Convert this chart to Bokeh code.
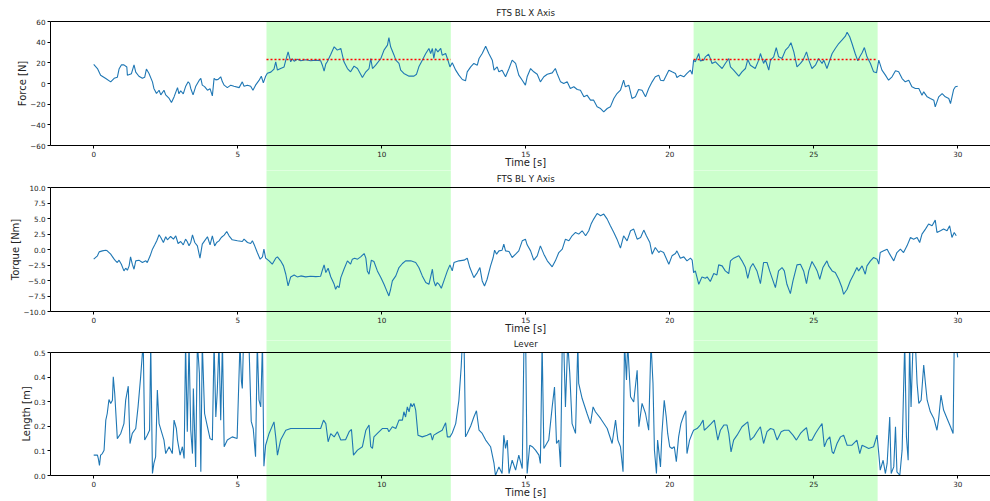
import math
from bokeh.plotting import figure
from bokeh.layouts import column
from bokeh.models import (Range1d, FixedTicker, BoxAnnotation, Label, LinearAxis,
                          CustomJSTickFormatter)
from bokeh.embed import file_html
from bokeh.resources import INLINE

FONT = "DejaVu Sans"
BLUE = "#1f77b4"
GREEN = "#ccffcc"
TXT = "#222222"

X_TICKS = [0, 5, 10, 15, 20, 25, 30]
X_MIN = -1.5          # left spine of every panel

# contact segments (green) and mean force inside each
SEG_START = [6.0, 20.83]
SEG_END = [12.4, 27.22]
SEG_MEAN = [23.2, 23.2]

# ---------------- FTS BL X Axis : Force [N] ----------------
FX_T = [0.00, 0.13, 0.24, 0.42, 0.59, 0.71, 0.82, 0.88, 0.96, 1.05, 1.15, 1.17, 1.31, 1.40, 1.46, 1.57,
        1.69, 1.77, 1.83, 1.92, 2.04, 2.09, 2.18, 2.27, 2.33, 2.44, 2.50, 2.62, 2.70, 2.79, 2.91, 2.96,
        3.02, 3.11, 3.19, 3.28, 3.33, 3.37, 3.45, 3.54, 3.66, 3.72, 3.77, 3.85, 3.95, 4.04, 4.12, 4.18,
        4.24, 4.32, 4.41, 4.47, 4.53, 4.64, 4.76, 4.87, 5.05, 5.16, 5.22, 5.34, 5.45, 5.53, 5.62, 5.74,
        5.82, 5.89, 5.97, 6.03, 6.15, 6.26, 6.32, 6.38, 6.49, 6.61, 6.67, 6.75, 6.84, 6.90, 6.96, 7.07,
        7.19, 7.36, 7.53, 7.71, 7.88, 7.94, 8.00, 8.06, 8.11, 8.23, 8.35, 8.46, 8.58, 8.69, 8.81, 8.92,
        9.04, 9.16, 9.33, 9.45, 9.56, 9.62, 9.68, 9.79, 9.97, 10.08, 10.20, 10.25, 10.31, 10.43, 10.49,
        10.60, 10.66, 10.77, 10.95, 11.12, 11.21, 11.29, 11.41, 11.53, 11.64, 11.70, 11.76, 11.81, 11.87,
        11.95, 12.05, 12.10, 12.22, 12.28, 12.37, 12.45, 12.57, 12.68, 12.80, 12.91, 12.97, 13.09, 13.20,
        13.32, 13.38, 13.49, 13.61, 13.72, 13.84, 13.90, 14.01, 14.07, 14.18, 14.30, 14.42, 14.53, 14.65,
        14.76, 14.88, 14.99, 15.05, 15.17, 15.28, 15.40, 15.51, 15.63, 15.75, 15.92, 16.03, 16.09, 16.21,
        16.32, 16.44, 16.55, 16.67, 16.79, 16.90, 17.02, 17.13, 17.25, 17.36, 17.48, 17.60, 17.71, 17.83,
        17.94, 18.06, 18.17, 18.29, 18.40, 18.46, 18.58, 18.69, 18.81, 18.92, 19.04, 19.16, 19.27, 19.39,
        19.50, 19.62, 19.68, 19.79, 19.97, 20.08, 20.20, 20.25, 20.37, 20.49, 20.60, 20.72, 20.78, 20.83,
        20.89, 21.01, 21.06, 21.18, 21.24, 21.35, 21.41, 21.47, 21.59, 21.70, 21.82, 21.93, 22.05, 22.11,
        22.22, 22.40, 22.51, 22.63, 22.71, 22.80, 22.97, 23.09, 23.15, 23.26, 23.32, 23.44, 23.50, 23.61,
        23.70, 23.78, 23.90, 24.02, 24.13, 24.21, 24.31, 24.42, 24.54, 24.63, 24.75, 24.83, 24.94, 25.06,
        25.17, 25.29, 25.35, 25.46, 25.58, 25.64, 25.75, 25.87, 25.98, 26.10, 26.16, 26.25, 26.33, 26.44,
        26.53, 26.60, 26.68, 26.76, 26.85, 26.97, 27.08, 27.18, 27.26, 27.37, 27.49, 27.60, 27.72, 27.84,
        27.95, 28.07, 28.18, 28.30, 28.41, 28.53, 28.65, 28.76, 28.82, 28.94, 29.05, 29.17, 29.22, 29.34,
        29.46, 29.57, 29.69, 29.75, 29.86, 29.92, 30.00]
FX_V = [18.4, 14.5, 8.0, 4.8, 1.6, 5.0, 6.0, 14.0, 18.0, 18.0, 16.0, 8.0, 9.5, 18.0, 11.0, 7.0,
        5.0, 6.0, 14.0, 9.7, 1.6, -4.8, -9.7, -6.5, -11.0, -6.5, -11.0, -14.5, -18.4, -13.0, -4.0, -10.0,
        -7.0, -10.0, -3.0, 1.6, 0.0, -4.8, -11.0, -3.0, 3.0, 5.0, -1.6, -3.0, -6.5, -5.0, -12.0, 5.0,
        3.5, 4.0, 6.5, 1.6, -1.6, -4.0, -1.6, -2.6, -4.0, 1.6, -2.6, -1.6, -2.6, -6.5, -1.6, 3.0,
        7.0, 0.6, 7.0, 10.0, 11.0, 14.0, 21.0, 13.0, 14.5, 16.0, 22.6, 30.6, 21.0, 24.0, 21.6, 23.5,
        22.0, 23.0, 22.0, 22.6, 22.0, 17.7, 12.0, 19.0, 21.0, 28.0, 35.5, 32.3, 33.9, 21.0, 14.5, 11.3,
        16.8, 14.5, 5.8, 11.3, 14.5, 24.2, 14.5, 17.7, 24.2, 32.3, 37.1, 44.5, 35.5, 27.4, 22.6,
        19.4, 12.9, 9.7, 7.1, 7.1, 9.0, 16.1, 22.6, 29.0, 33.9, 29.0, 33.9, 24.2, 33.9,
        30.6, 33.9, 27.4, 29.0, 24.2, 16.1, 20.0, 12.9, 8.1, 3.9, 2.6, 11.3, 16.1, 19.4,
        17.7, 24.2, 29.0, 36.1, 29.0, 22.6, 12.9, 16.1, 11.3, 12.9, 6.5, 14.5, 22.6, 19.4,
        8.1, 3.2, -1.6, 6.5, 14.5, 11.3, 9.0, 1.6, 6.5, 9.0, 10.3, 14.5, 9.7, 1.6,
        0.0, 1.6, -4.8, -3.2, -5.8, -6.5, -12.9, -11.3, -16.1, -16.1, -22.6, -24.2, -27.4, -24.2,
        -22.6, -14.5, -9.7, -6.5, 3.2, -3.2, -1.6, -14.5, -12.9, -5.8, -6.5, -12.9, -4.8, 1.6,
        6.5, 8.1, 3.2, 2.6, 12.9, 11.3, 9.7, 5.8, 8.1, 6.5, 9.7, 12.9, 9.0, 22.6,
        21.0, 29.0, 21.9, 22.6, 25.8, 28.4, 24.2, 19.4, 21.0, 17.7, 14.5, 19.4, 24.2, 16.1,
        12.9, 7.1, 11.3, 14.5, 23.2, 17.7, 14.5, 22.6, 29.0, 19.4, 23.2, 12.9, 22.6, 25.8,
        34.8, 25.8, 24.2, 32.3, 35.5, 39.4, 30.6, 16.1, 19.4, 22.6, 30.6, 22.6, 14.5, 17.7,
        24.2, 19.4, 22.6, 14.5, 24.2, 29.0, 33.9, 38.7, 41.9, 45.8, 49.7, 45.2, 38.7, 29.0,
        21.9, 25.8, 29.7, 34.8, 25.8, 19.4, 11.3, 10.3, 22.6, 12.9, 8.1, 3.2, 6.5, 12.3,
        11.3, 4.8, 1.6, 3.2, -3.2, -4.8, -4.8, -11.3, -8.1, -12.9, -14.5, -16.1, -22.6, -12.9,
        -9.7, -12.9, -14.5, -19.4, -5.8, -3.2, -2.6]

# ---------------- FTS BL Y Axis : Torque [Nm] ----------------
TY_T = [0.00, 0.13, 0.19, 0.30, 0.42, 0.47, 0.59, 0.71, 0.76, 0.82, 0.88, 0.96, 1.05, 1.11, 1.17, 1.23,
        1.28, 1.34, 1.40, 1.46, 1.57, 1.69, 1.81, 1.86, 1.96, 2.04, 2.12, 2.19, 2.27, 2.33, 2.42, 2.50,
        2.56, 2.67, 2.77, 2.85, 2.93, 3.02, 3.11, 3.19, 3.25, 3.31, 3.37, 3.43, 3.51, 3.60, 3.69, 3.77,
        3.85, 3.95, 4.04, 4.12, 4.20, 4.27, 4.35, 4.43, 4.53, 4.62, 4.70, 4.81, 4.99, 5.16, 5.22, 5.34,
        5.45, 5.51, 5.59, 5.68, 5.78, 5.86, 5.91, 5.97, 6.09, 6.20, 6.32, 6.38, 6.49, 6.59, 6.67, 6.75,
        6.84, 6.96, 7.07, 7.19, 7.36, 7.53, 7.71, 7.88, 7.94, 8.00, 8.06, 8.14, 8.23, 8.35, 8.40, 8.46,
        8.52, 8.58, 8.69, 8.81, 8.92, 8.98, 9.06, 9.16, 9.27, 9.39, 9.45, 9.50, 9.56, 9.64, 9.73, 9.85,
        9.97, 10.08, 10.20, 10.25, 10.31, 10.37, 10.49, 10.60, 10.72, 10.83, 11.01, 11.18, 11.29, 11.41,
        11.53, 11.64, 11.70, 11.76, 11.81, 11.87, 11.93, 11.99, 12.07, 12.16, 12.28, 12.37, 12.45, 12.51,
        12.68, 12.86, 12.97, 13.06, 13.20, 13.32, 13.41, 13.49, 13.57, 13.66, 13.78, 13.87, 13.92, 13.99,
        14.07, 14.18, 14.24, 14.30, 14.42, 14.53, 14.65, 14.76, 14.88, 14.99, 15.05, 15.17, 15.28, 15.40,
        15.51, 15.63, 15.75, 15.92, 16.03, 16.15, 16.27, 16.38, 16.50, 16.61, 16.73, 16.84, 16.96, 17.08,
        17.19, 17.27, 17.36, 17.48, 17.60, 17.71, 17.83, 17.94, 18.06, 18.17, 18.29, 18.40, 18.52, 18.64,
        18.75, 18.87, 18.99, 19.10, 19.19, 19.31, 19.39, 19.50, 19.62, 19.68, 19.79, 19.97, 20.08, 20.20,
        20.25, 20.37, 20.49, 20.60, 20.72, 20.78, 20.83, 20.89, 21.01, 21.12, 21.24, 21.30, 21.41, 21.53,
        21.64, 21.70, 21.82, 21.93, 22.05, 22.11, 22.22, 22.40, 22.51, 22.63, 22.71, 22.80, 22.89, 23.03,
        23.15, 23.26, 23.38, 23.47, 23.55, 23.67, 23.78, 23.90, 23.98, 24.07, 24.19, 24.28, 24.42, 24.54,
        24.65, 24.75, 24.83, 24.94, 25.06, 25.12, 25.21, 25.32, 25.46, 25.52, 25.64, 25.75, 25.87, 25.98,
        26.04, 26.16, 26.27, 26.39, 26.50, 26.56, 26.68, 26.79, 26.85, 26.97, 27.08, 27.20, 27.26, 27.31,
        27.43, 27.55, 27.64, 27.78, 27.89, 28.01, 28.12, 28.24, 28.36, 28.47, 28.59, 28.68, 28.76, 28.88,
        28.99, 29.11, 29.22, 29.28, 29.40, 29.51, 29.63, 29.72, 29.80, 29.88, 29.95]
TY_V = [-1.56, -1.02, -0.38, -0.22, -0.11, -0.22, -0.75, -1.56, -1.83, -2.10, -1.72, -2.37, -3.45, -3.02, -3.34, -2.64,
        -1.19, -2.37, -3.18, -1.83, -1.72, -2.10, -1.83, -2.10, -1.02, 0.05, 0.75, 1.40, 2.37, 1.94, 1.13, 2.05,
        1.56, 2.10, 1.67, 2.21, 0.97, 1.29, 0.75, 1.67, 1.24, 0.59, 1.13, 2.37, 1.13, 0.59, -1.40, 0.86,
        1.40, 2.05, 0.75, 2.21, 0.59, 1.13, 1.40, 1.94, 2.32, 2.91, 2.21, 1.56, 1.40, 1.29, 1.67, 1.13,
        0.97, 1.40, 0.59, -0.49, -1.56, -1.19, 0.05, -1.40, -1.83, -2.37, -1.40, -1.19, -1.83, -2.64, -3.99, -5.88,
        -4.42, -4.10, -4.42, -4.26, -4.42, -4.31, -4.37, -4.31, -3.34, -2.48, -3.72, -3.02, -4.40, -5.61, -6.41, -5.88,
        -6.14, -4.53, -3.18, -1.83, -2.37, -1.56, -1.40, -1.56, -1.19, -0.65, -1.40, -3.45, -3.99, -1.72, -1.94, -3.45,
        -4.53, -5.61, -6.95, -7.49, -6.41, -5.07, -4.26, -2.91, -2.26, -1.83, -1.83, -2.10, -2.91, -4.26,
        -5.34, -5.61, -4.42, -3.18, -5.07, -5.88, -5.34, -5.61, -6.25, -5.07, -3.45, -2.48, -3.45, -2.10,
        -1.83, -1.72, -1.40, -2.91, -4.53, -3.72, -2.91, -5.07, -5.88, -4.80, -2.64, -1.29, -0.11, -0.75,
        -0.22, -0.11, 0.86, -0.22, -0.32, -1.29, -0.75, -0.22, 1.40, 1.67, 0.75, -0.22, -1.72, -1.02,
        0.59, -0.75, -1.83, -2.80, -1.83, -0.49, 0.05, 1.67, 1.40, 2.21, 2.75, 2.48, 3.02, 2.21,
        3.02, 4.10, 4.90, 5.82, 5.44, 5.71, 4.90, 3.83, 2.75, 1.67, 0.22, 2.21, 1.40, 3.02,
        3.29, 1.67, 1.94, 3.13, 2.21, 1.13, -0.75, 0.32, -0.49, -0.22, -0.49, -2.37, -1.02, -0.65,
        -0.22, -1.40, -1.19, -1.83, -1.40, -1.72, -3.72, -3.45, -5.61, -4.42, -4.64, -4.42, -5.17, -3.88,
        -4.10, -2.48, -2.64, -3.45, -3.88, -1.83, -1.40, -1.02, -1.83, -2.91, -4.64, -2.91, -2.26, -3.45,
        -5.50, -2.10, -2.10, -3.45, -4.53, -6.14, -3.45, -2.91, -3.45, -5.61, -7.11, -5.07, -2.48, -2.37,
        -3.45, -5.50, -3.45, -1.94, -2.91, -3.45, -4.80, -2.91, -1.83, -2.64, -3.45, -3.72, -4.80, -6.14,
        -7.22, -6.41, -5.07, -3.99, -2.91, -3.45, -2.64, -3.99, -2.64, -1.83, -1.29, -1.56, -2.37, -0.49,
        -0.22, 0.05, -0.75, -1.83, -0.49, 0.05, -0.49, 0.59, 1.94, 1.67, 1.94, 1.13, 2.48, 3.29,
        4.10, 3.83, 4.74, 2.75, 3.02, 3.29, 3.02, 3.83, 1.94, 2.75, 2.21]

# ---------------- Lever : Length [m] (0.54 = off the top of the axes) ----------------
LV_T = [0.00, 0.13, 0.16, 0.20, 0.24, 0.30, 0.36, 0.42, 0.47, 0.53, 0.59, 0.65, 0.68, 0.73, 0.82, 0.94,
        1.05, 1.11, 1.20, 1.26, 1.34, 1.46, 1.54, 1.63, 1.69, 1.72, 1.77, 1.86, 1.94, 1.98, 2.04, 2.09,
        2.15, 2.21, 2.27, 2.44, 2.50, 2.62, 2.73, 2.79, 2.87, 2.91, 3.00, 3.08, 3.14, 3.19, 3.25, 3.31,
        3.37, 3.43, 3.46, 3.54, 3.60, 3.67, 3.72, 3.77, 3.85, 3.95, 4.04, 4.12, 4.18, 4.24, 4.29, 4.35,
        4.41, 4.47, 4.53, 4.64, 4.81, 4.98, 5.08, 5.13, 5.16, 5.20, 5.39, 5.47, 5.54, 5.62, 5.68, 5.74,
        5.80, 5.86, 5.91, 5.97, 6.09, 6.26, 6.32, 6.38, 6.49, 6.67, 6.84, 7.19, 7.53, 7.88, 7.98, 8.06,
        8.14, 8.23, 8.35, 8.46, 8.58, 8.75, 8.87, 8.95, 9.02, 9.16, 9.33, 9.45, 9.56, 9.62, 9.68, 9.73,
        9.85, 10.02, 10.20, 10.25, 10.37, 10.49, 10.60, 10.72, 10.77, 10.83, 10.89, 10.95, 11.01, 11.06,
        11.12, 11.18, 11.26, 11.41, 11.58, 11.70, 11.76, 11.81, 11.93, 12.10, 12.22, 12.28, 12.37, 12.45,
        12.57, 12.68, 12.76, 12.80, 12.86, 12.91, 12.97, 13.09, 13.20, 13.29, 13.38, 13.49, 13.61, 13.78,
        13.90, 13.95, 14.07, 14.18, 14.24, 14.30, 14.36, 14.42, 14.53, 14.65, 14.76, 14.88, 14.94, 15.00,
        15.05, 15.14, 15.23, 15.34, 15.46, 15.51, 15.57, 15.63, 15.80, 15.92, 16.00, 16.07, 16.15, 16.21,
        16.27, 16.32, 16.38, 16.46, 16.53, 16.61, 16.73, 16.81, 16.84, 16.96, 17.13, 17.25, 17.34, 17.42,
        17.60, 17.83, 18.00, 18.12, 18.20, 18.29, 18.38, 18.43, 18.50, 18.54, 18.64, 18.75, 18.87, 18.93,
        19.04, 19.16, 19.27, 19.35, 19.42, 19.47, 19.54, 19.58, 19.68, 19.73, 19.81, 19.88, 19.93, 20.00,
        20.08, 20.16, 20.23, 20.31, 20.39, 20.49, 20.56, 20.60, 20.69, 20.78, 20.83, 20.95, 21.06, 21.16,
        21.20, 21.30, 21.44, 21.55, 21.67, 21.76, 21.88, 21.99, 22.05, 22.13, 22.22, 22.34, 22.51, 22.71,
        22.80, 22.92, 23.03, 23.15, 23.26, 23.38, 23.50, 23.61, 23.73, 23.87, 23.98, 24.13, 24.28, 24.40,
        24.54, 24.65, 24.75, 24.83, 24.94, 25.06, 25.17, 25.29, 25.37, 25.46, 25.56, 25.64, 25.69, 25.81,
        25.93, 26.04, 26.16, 26.33, 26.50, 26.60, 26.68, 26.79, 26.91, 27.08, 27.20, 27.26, 27.31, 27.41,
        27.49, 27.55, 27.64, 27.69, 27.78, 27.84, 27.89, 27.99, 28.07, 28.16, 28.22, 28.28, 28.33, 28.38,
        28.45, 28.53, 28.59, 28.65, 28.73, 28.82, 28.88, 28.94, 29.05, 29.17, 29.28, 29.34, 29.42, 29.51,
        29.63, 29.75, 29.84, 29.88, 29.95, 30.00]
LV_V = [0.083, 0.083, 0.069, 0.041, 0.083, 0.089, 0.103, 0.225, 0.252, 0.309, 0.293, 0.306, 0.401, 0.333, 0.150, 0.171,
        0.211, 0.306, 0.363, 0.130, 0.171, 0.191, 0.279, 0.401, 0.496, 0.54, 0.144, 0.164, 0.184, 0.54, 0.008, 0.049,
        0.076, 0.347, 0.211, 0.144, 0.089, 0.117, 0.089, 0.225, 0.191, 0.144, 0.083, 0.117, 0.069, 0.54, 0.178, 0.54,
        0.184, 0.089, 0.354, 0.035, 0.54, 0.415, 0.015, 0.54, 0.252, 0.198, 0.150, 0.144, 0.54, 0.238, 0.340, 0.54,
        0.225, 0.54, 0.117, 0.144, 0.157, 0.150, 0.54, 0.381, 0.354, 0.54, 0.54, 0.220, 0.190, 0.076, 0.54, 0.306,
        0.279, 0.54, 0.038, 0.123, 0.171, 0.218, 0.157, 0.083, 0.144, 0.184, 0.191, 0.191, 0.191, 0.191, 0.225, 0.211,
        0.137, 0.170, 0.157, 0.178, 0.144, 0.146, 0.178, 0.187, 0.083, 0.103, 0.117, 0.184, 0.205, 0.117, 0.110, 0.157,
        0.171, 0.191, 0.191, 0.178, 0.198, 0.191, 0.225, 0.225, 0.259, 0.238, 0.279, 0.259, 0.293, 0.279,
        0.293, 0.266, 0.164, 0.157, 0.164, 0.171, 0.144, 0.164, 0.173, 0.184, 0.214, 0.157, 0.157, 0.173,
        0.211, 0.306, 0.442, 0.54, 0.54, 0.157, 0.171, 0.201, 0.238, 0.263, 0.184, 0.171, 0.144, 0.117,
        0.049, 0.000, 0.035, 0.008, 0.164, 0.110, 0.144, 0.008, 0.062, 0.022, 0.083, 0.028, 0.54, 0.54,
        0.008, 0.123, 0.117, 0.103, 0.083, 0.049, 0.54, 0.110, 0.144, 0.279, 0.360, 0.130, 0.144, 0.035,
        0.54, 0.54, 0.279, 0.54, 0.415, 0.211, 0.171, 0.54, 0.374, 0.313, 0.252, 0.211, 0.279, 0.259,
        0.232, 0.191, 0.130, 0.225, 0.144, 0.117, 0.015, 0.54, 0.388, 0.54, 0.320, 0.299, 0.428, 0.198,
        0.293, 0.252, 0.184, 0.54, 0.374, 0.103, 0.008, 0.144, 0.035, 0.171, 0.306, 0.238, 0.171, 0.117,
        0.110, 0.117, 0.056, 0.157, 0.211, 0.245, 0.263, 0.089, 0.144, 0.171, 0.184, 0.191, 0.205, 0.225,
        0.184, 0.195, 0.211, 0.225, 0.144, 0.184, 0.205, 0.205, 0.171, 0.096, 0.144, 0.164, 0.198, 0.218,
        0.144, 0.157, 0.178, 0.198, 0.130, 0.178, 0.191, 0.187, 0.144, 0.178, 0.184, 0.184, 0.164, 0.144,
        0.171, 0.184, 0.195, 0.144, 0.144, 0.171, 0.191, 0.211, 0.117, 0.144, 0.157, 0.096, 0.089, 0.130,
        0.157, 0.164, 0.123, 0.123, 0.144, 0.089, 0.123, 0.117, 0.110, 0.117, 0.164, 0.089, 0.022, 0.062,
        0.008, 0.049, 0.238, 0.008, 0.035, 0.198, 0.015, 0.001, 0.103, 0.54, 0.157, 0.062, 0.54, 0.279,
        0.54, 0.54, 0.374, 0.293, 0.306, 0.449, 0.374, 0.306, 0.259, 0.232, 0.184, 0.232, 0.327, 0.266,
        0.232, 0.198, 0.171, 0.54, 0.53, 0.48]

Y1_TICKS = [-60, -40, -20, 0, 20, 40, 60]
Y2_TICKS = [-10.0, -7.5, -5.0, -2.5, 0.0, 2.5, 5.0, 7.5, 10.0]
Y3_TICKS = [0.0, 0.1, 0.2, 0.3, 0.4, 0.5]

# ---- layout (pixels) ----
W = 990
AX_LEFT_PX = 50        # where the left spine sits
PX_PER_S = 28.8
X_START = X_MIN - AX_LEFT_PX / PX_PER_S
X_END = X_START + W / PX_PER_S
PAD_PX = 6             # how far boxes run past the canvas edge


def fmt(decimals):
    return CustomJSTickFormatter(args=dict(d=decimals), code="""
        const s = Math.abs(tick).toFixed(d);
        return (tick < -1e-9 ? '\\u2212' : '') + s;
    """)


def style_axis(ax):
    ax.axis_line_color = "black"
    ax.axis_line_width = 1
    ax.major_tick_line_color = "black"
    ax.major_tick_out = 3
    ax.major_tick_in = 0
    ax.minor_tick_line_color = None
    ax.major_label_text_font = FONT
    ax.major_label_text_font_size = "7.2px"
    ax.major_label_text_color = TXT
    ax.major_label_standoff = 2


def make_panel(height, f_top, f_bot, ylim, yticks, decimals, ylabel, ylabel_dx, title, t, v, first=False):
    ymin, ymax = ylim
    k = (ymax - ymin) / (f_bot - f_top)          # data units per pixel
    y_end = ymax + f_top * k
    y_start = ymin - (height - f_bot) * k
    y_hi = y_end + PAD_PX * k
    y_lo = y_start - PAD_PX * k
    x_lo = X_START - PAD_PX / PX_PER_S
    x_hi = X_END + PAD_PX / PX_PER_S

    p = figure(width=W, height=height, x_range=Range1d(X_START, X_END),
               y_range=Range1d(y_start, y_end), output_backend="svg", toolbar_location=None,
               min_border=0, min_border_left=0, min_border_right=0,
               min_border_top=0, min_border_bottom=0)
    p.outline_line_color = None
    p.xgrid.visible = False
    p.ygrid.visible = False
    p.background_fill_color = "white"
    p.border_fill_color = "white"

    xa = p.xaxis[0]
    ya = p.yaxis[0]
    style_axis(xa)
    style_axis(ya)
    xa.fixed_location = ymin
    xa.bounds = (X_MIN, X_END)
    xa.ticker = FixedTicker(ticks=X_TICKS)
    xa.formatter = fmt(0)
    ya.fixed_location = X_MIN
    ya.bounds = (ymin, ymax)
    ya.ticker = FixedTicker(ticks=yticks)
    ya.formatter = fmt(decimals)

    # top spine
    top = LinearAxis(fixed_location=ymax, bounds=(X_MIN, X_END), ticker=FixedTicker(ticks=[]),
                     axis_line_color="black", axis_line_width=1,
                     major_tick_line_color=None, minor_tick_line_color=None,
                     major_label_text_color=None)
    p.add_layout(top, "above")

    # contact phases (extend through the gaps between panels)
    for s, e in zip(SEG_START, SEG_END):
        p.add_layout(BoxAnnotation(left=s, right=e,
                                   top=(ymax if first else y_hi), bottom=y_lo,
                                   fill_color=GREEN, fill_alpha=1.0, line_color=None,
                                   level="underlay"))

    p.line(t, v, line_color=BLUE, line_width=1.1)

    # hide what the data line draws above the axes' top (as an axes clip would)
    p.add_layout(BoxAnnotation(bottom=ymax, top=y_hi, left=x_lo, right=x_hi,
                               fill_color="white", fill_alpha=1.0, line_color=None,
                               level="glyph"))
    if not first:
        for s, e in zip(SEG_START, SEG_END):
            p.add_layout(BoxAnnotation(left=s, right=e, top=y_hi, bottom=ymax,
                                       fill_color=GREEN, fill_alpha=1.0, line_color=None,
                                       level="glyph"))

    p.add_layout(Label(x=15, y=ymax, y_offset=4, text=title, text_align="center",
                       text_baseline="bottom", text_font=FONT, text_font_size="8.7px",
                       text_color=TXT))
    p.add_layout(Label(x=15, y=ymin, y_offset=-11, text="Time [s]", text_align="center",
                       text_baseline="top", text_font=FONT, text_font_size="10px",
                       text_color=TXT))
    p.add_layout(Label(x=X_MIN, y=(ymin + ymax) / 2, x_offset=ylabel_dx, text=ylabel,
                       angle=math.pi / 2, text_align="center", text_baseline="middle",
                       text_font=FONT, text_font_size="10px", text_color=TXT))
    return p


p1 = make_panel(170, 21, 145, (-60, 60), Y1_TICKS, 0, "Force [N]", -28, "FTS BL X Axis",
                FX_T, FX_V, first=True)
for s, e, m in zip(SEG_START, SEG_END, SEG_MEAN):
    p1.line([s, e], [m, m], line_color="red", line_width=1.6, line_dash="2 2")

p2 = make_panel(170, 17, 141, (-10, 10), Y2_TICKS, 1, "Torque [Nm]", -35.5, "FTS BL Y Axis",
                TY_T, TY_V)
p3 = make_panel(161, 12, 135, (0, 0.5), Y3_TICKS, 1, "Length [m]", -24, "Lever",
                LV_T, LV_V)

layout = column(p1, p2, p3, spacing=0)
open("out.html", "w").write(file_html(layout, INLINE))
